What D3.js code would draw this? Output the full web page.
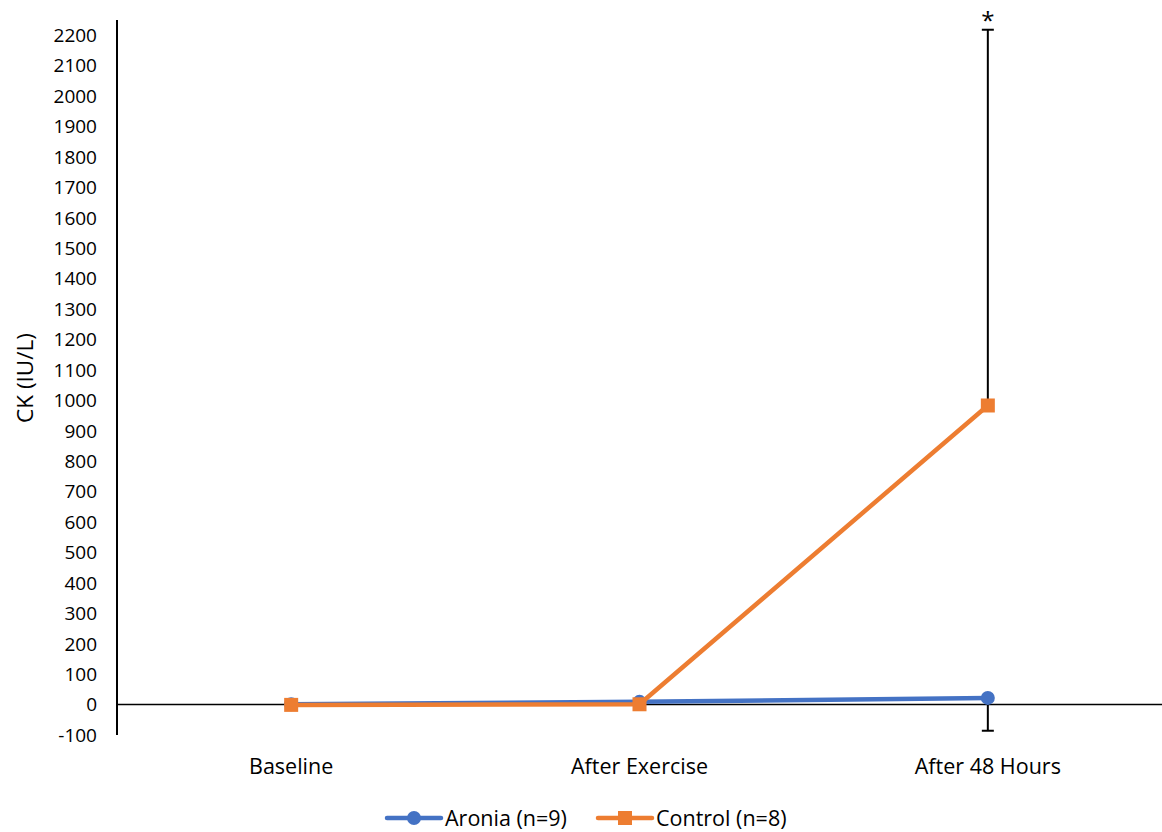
<!DOCTYPE html>
<html>
<head>
<meta charset="utf-8">
<script src="https://cdn.jsdelivr.net/npm/d3@7"></script>
<style>
  body { margin: 0; background: #fff; }
  svg { display: block; font-family: "Open Sans", Lato, sans-serif; }
</style>
</head>
<body>
<svg id="chart" width="1162" height="832"></svg>
<script>
// Time points and group data
const categories = ["Baseline", "After Exercise", "After 48 Hours"];
const aroniaValues = [1, 9, 22];
const aroniaErrMinus = [0, 0, 108];
const controlValues = [-1, 1, 983];
const controlErrPlus = [0, 0, 1235];
const yTicks = [-100, 0, 100, 200, 300, 400, 500, 600, 700, 800, 900, 1000,
  1100, 1200, 1300, 1400, 1500, 1600, 1700, 1800, 1900, 2000, 2100, 2200];
const seriesNames = ["Aronia (n=9)", "Control (n=8)"];
const colors = { aronia: "#4472C4", control: "#ED7D31" };

const svg = d3.select("#chart");
const margin = { left: 117, right: 0, top: 20, bottom: 97 };
const W = 1162, H = 832;
const tickSize = 19;
const labelSize = 21.5;

const x = d3.scaleBand().domain(categories).range([margin.left, W - margin.right]);
const y = d3.scaleLinear().domain([-100, 2250]).range([H - margin.bottom, margin.top]);
const cx = c => x(c) + x.bandwidth() / 2;

// y axis line and tick labels
svg.append("line")
  .attr("x1", margin.left).attr("x2", margin.left)
  .attr("y1", y(2250)).attr("y2", y(-100))
  .attr("stroke", "#000").attr("stroke-width", 2);

svg.append("g").selectAll("text").data(yTicks).join("text")
  .attr("x", margin.left - 20)
  .attr("y", d => y(d))
  .attr("dy", "0.36em")
  .attr("text-anchor", "end")
  .attr("font-size", tickSize)
  .attr("fill", "#000")
  .text(d => d);

// horizontal axis at zero
svg.append("line")
  .attr("x1", margin.left).attr("x2", W)
  .attr("y1", y(0)).attr("y2", y(0))
  .attr("stroke", "#000").attr("stroke-width", 1.5);

// category labels
svg.append("g").selectAll("text").data(categories).join("text")
  .attr("x", d => cx(d))
  .attr("y", 774)
  .attr("text-anchor", "middle")
  .attr("font-size", labelSize)
  .attr("fill", "#000")
  .text(d => d);

// y axis title
svg.append("text")
  .attr("transform", `translate(33,378) rotate(-90)`)
  .attr("text-anchor", "middle")
  .attr("font-size", 22.5)
  .attr("fill", "#000")
  .text("CK (IU/L)");

// error bars
function errBar(c, from, to) {
  const g = svg.append("g").attr("stroke", "#000").attr("stroke-width", 2);
  g.append("line").attr("x1", cx(c)).attr("x2", cx(c)).attr("y1", y(from)).attr("y2", y(to));
  g.append("line").attr("x1", cx(c) - 6).attr("x2", cx(c) + 6).attr("y1", y(to)).attr("y2", y(to));
}
categories.forEach((c, i) => {
  if (controlErrPlus[i] > 0) errBar(c, controlValues[i], controlValues[i] + controlErrPlus[i]);
  if (aroniaErrMinus[i] > 0) errBar(c, aroniaValues[i], aroniaValues[i] - aroniaErrMinus[i]);
});

// significance marker
svg.append("text")
  .attr("x", cx(categories[2]))
  .attr("y", y(controlValues[2] + controlErrPlus[2]) - 1)
  .attr("text-anchor", "middle")
  .attr("font-size", 24)
  .attr("fill", "#000")
  .text("*");

const line = d3.line().x((d, i) => cx(categories[i])).y(d => y(d));

// Aronia series
svg.append("path").datum(aroniaValues)
  .attr("d", line).attr("fill", "none")
  .attr("stroke", colors.aronia).attr("stroke-width", 4.5).attr("stroke-linejoin", "round");
svg.append("g").selectAll("circle").data(aroniaValues).join("circle")
  .attr("cx", (d, i) => cx(categories[i])).attr("cy", d => y(d)).attr("r", 7)
  .attr("fill", colors.aronia);

// Control series
svg.append("path").datum(controlValues)
  .attr("d", line).attr("fill", "none")
  .attr("stroke", colors.control).attr("stroke-width", 4.5).attr("stroke-linejoin", "round");
svg.append("g").selectAll("rect").data(controlValues).join("rect")
  .attr("x", (d, i) => cx(categories[i]) - 7).attr("y", d => y(d) - 7)
  .attr("width", 14).attr("height", 14)
  .attr("fill", colors.control);

// legend
const legend = svg.append("g");
const items = [
  { name: seriesNames[0], color: colors.aronia, shape: "circle", x0: 387 },
  { name: seriesNames[1], color: colors.control, shape: "square", x0: 598 }
];
items.forEach(it => {
  const ly = 818;
  legend.append("line").attr("x1", it.x0).attr("x2", it.x0 + 54)
    .attr("y1", ly).attr("y2", ly)
    .attr("stroke", it.color).attr("stroke-width", 4.5).attr("stroke-linecap", "round");
  if (it.shape === "circle") {
    legend.append("circle").attr("cx", it.x0 + 27).attr("cy", ly).attr("r", 7).attr("fill", it.color);
  } else {
    legend.append("rect").attr("x", it.x0 + 20).attr("y", ly - 7).attr("width", 14).attr("height", 14).attr("fill", it.color);
  }
  legend.append("text").attr("x", it.x0 + 58).attr("y", ly).attr("dy", "0.36em")
    .attr("font-size", labelSize).attr("fill", "#000").text(it.name);
});
</script>
</body>
</html>
